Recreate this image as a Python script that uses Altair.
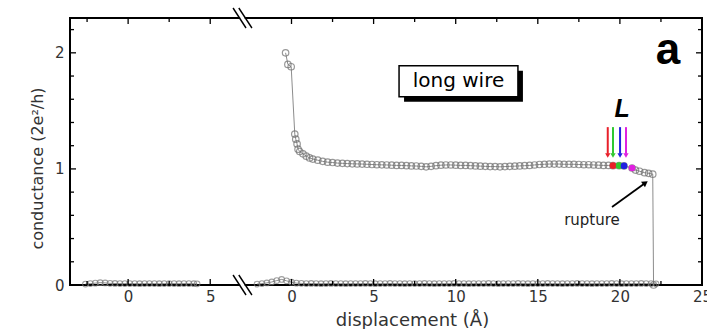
import altair as alt
import pandas as pd

# ---------------- data ----------------
# right-hand panel (after the axis break): displacement (Å), conductance (2e^2/h)
main_x = [-0.36, -0.22, -0.02, 0.20, 0.26, 0.34, 0.40,
          0.5, 0.7, 0.9, 1.1, 1.3, 1.6, 1.9, 2.2, 2.5, 2.8,
          3.1, 3.4, 3.7, 4.0, 4.3, 4.6, 4.9, 5.2, 5.5, 5.8,
          6.1, 6.4, 6.7, 7.0, 7.3, 7.6, 7.9, 8.2, 8.5, 8.8,
          9.1, 9.4, 9.7, 10.0, 10.3, 10.6, 10.9, 11.2, 11.5, 11.8,
          12.1, 12.4, 12.7, 13.0, 13.3, 13.6, 13.9, 14.2, 14.5, 14.8,
          15.1, 15.4, 15.7, 16.0, 16.3, 16.6, 16.9, 17.2, 17.5, 17.8,
          18.1, 18.4, 18.7, 19.0, 19.3,
          19.58, 19.95, 20.25, 20.74,
          20.95, 21.2, 21.5, 21.75, 22.0, 22.05]
main_y = [2.00, 1.90, 1.88, 1.30, 1.256, 1.215, 1.17,
          1.15, 1.13, 1.11, 1.095, 1.085, 1.075, 1.065, 1.058, 1.055, 1.05,
          1.048, 1.046, 1.044, 1.043, 1.042, 1.040, 1.038, 1.036, 1.035, 1.034,
          1.032, 1.030, 1.030, 1.028, 1.026, 1.025, 1.022, 1.018, 1.022, 1.028,
          1.032, 1.034, 1.034, 1.032, 1.030, 1.030, 1.028, 1.026, 1.024, 1.022,
          1.020, 1.020, 1.018, 1.020, 1.022, 1.024, 1.026, 1.028, 1.030, 1.034,
          1.038, 1.040, 1.042, 1.042, 1.042, 1.040, 1.040, 1.040, 1.038, 1.036,
          1.036, 1.034, 1.032, 1.030, 1.030,
          1.028, 1.028, 1.026, 1.008,
          0.99, 0.98, 0.968, 0.962, 0.955, 0.0]

# highlighted points of length L and their arrows
L_x = [19.58, 19.95, 20.25, 20.74]
L_y = [1.028, 1.028, 1.026, 1.008]
L_arrow_x = [19.26, 19.58, 20.01, 20.37]
L_colors = ["#e8202a", "#30c830", "#2020e0", "#e020e0"]

# zero-conductance trace, right panel
zero_r_x = [-2.1, -1.8, -1.5, -1.2, -0.9, -0.6, -0.3, 0.0, 0.3, 0.6,
            0.9, 1.2, 1.5, 1.8, 2.1, 2.4, 2.7, 3.0, 3.3, 3.6,
            3.9, 4.2, 4.5, 4.8, 5.1, 5.4, 5.7, 6.0, 6.3, 6.6,
            6.9, 7.2, 7.5, 7.8, 8.1, 8.4, 8.7, 9.0, 9.3, 9.6,
            9.9, 10.2, 10.5, 10.8, 11.1, 11.4, 11.7, 12.0, 12.3, 12.6,
            12.9, 13.2, 13.5, 13.8, 14.1, 14.4, 14.7, 15.0, 15.3, 15.6,
            15.9, 16.2, 16.5, 16.8, 17.1, 17.4, 17.7, 18.0, 18.3, 18.6,
            18.9, 19.2, 19.5, 19.8, 20.1, 20.4, 20.7, 21.0, 21.3, 21.6,
            21.9, 22.2]
zero_r_y = [0.008, 0.012, 0.018, 0.026, 0.038, 0.048, 0.036, 0.024, 0.016, 0.014,
            0.012, 0.013, 0.012, 0.011, 0.012, 0.013, 0.012, 0.012, 0.011, 0.012,
            0.012, 0.012, 0.013, 0.012, 0.011, 0.012, 0.012, 0.013, 0.012, 0.012,
            0.011, 0.012, 0.012, 0.012, 0.013, 0.012, 0.011, 0.012, 0.012, 0.012,
            0.013, 0.012, 0.012, 0.011, 0.012, 0.012, 0.012, 0.013, 0.012, 0.011,
            0.012, 0.012, 0.012, 0.013, 0.012, 0.011, 0.012, 0.012, 0.012, 0.013,
            0.012, 0.012, 0.011, 0.012, 0.012, 0.013, 0.012, 0.012, 0.011, 0.012,
            0.012, 0.012, 0.013, 0.012, 0.011, 0.012, 0.012, 0.012, 0.013, 0.012,
            0.012, 0.010]

# zero-conductance trace, left panel (before the break)
zero_l_x = [-2.6, -2.3, -2.0, -1.7, -1.4, -1.1, -0.8, -0.5, -0.2, 0.1,
            0.4, 0.7, 1.0, 1.3, 1.6, 1.9, 2.2, 2.5, 2.8, 3.1,
            3.4, 3.7, 4.0, 4.2]
zero_l_y = [0.008, 0.012, 0.016, 0.020, 0.018, 0.014, 0.013, 0.012, 0.012, 0.012,
            0.012, 0.011, 0.012, 0.012, 0.012, 0.011, 0.012, 0.012, 0.012, 0.011,
            0.012, 0.012, 0.011, 0.010]

# axis ticks
x_major_left = [0, 5]
x_minor_left = [-2.5, 2.5]
x_major_right = [0, 5, 10, 15, 20, 25]
x_minor_right = [2.5, 7.5, 12.5, 17.5, 22.5]
y_major = [0, 1, 2]
y_minor = [0.2, 0.4, 0.6, 0.8, 1.2, 1.4, 1.6, 1.8, 2.2]

# broken axis: left panel [-3.54, 7.1], right panel shifted by OFFSET
X_MIN, X_MAX = -3.54, 34.95
OFFSET = 9.95
Y_MAX = 2.3
break_u = [6.39, 7.18, 6.74, 7.54]   # two diagonal strokes (start, end)

FONT = "DejaVu Sans"
BOLD_FONT = "Liberation Sans"
GREY = "#6e6e6e"

# ---------------- tables ----------------
main = pd.DataFrame({"u": [v + OFFSET for v in main_x], "y": main_y,
                     "i": list(range(len(main_x)))})
zr = pd.DataFrame({"u": [v + OFFSET for v in zero_r_x], "y": zero_r_y,
                   "i": list(range(len(zero_r_x)))})
zl = pd.DataFrame({"u": zero_l_x, "y": zero_l_y, "i": list(range(len(zero_l_x)))})
Ld = pd.DataFrame({"u": [v + OFFSET for v in L_x], "y": L_y,
                   "ua": [v + OFFSET for v in L_arrow_x], "c": L_colors})

xmaj = pd.DataFrame({"u": x_major_left + [v + OFFSET for v in x_major_right]})
xmin = pd.DataFrame({"u": x_minor_left + [v + OFFSET for v in x_minor_right]})
ymaj = pd.DataFrame({"y": y_major})
ymin = pd.DataFrame({"y": y_minor})

xscale = alt.Scale(domain=[X_MIN, X_MAX], nice=False, zero=False)
yscale = alt.Scale(domain=[0, Y_MAX], nice=False, zero=False)

label_vals = x_major_left + [v + OFFSET for v in x_major_right]
xaxis = alt.Axis(values=label_vals,
                 labelExpr="datum.value > 8 ? format(round(datum.value - 9.95), 'd') : format(round(datum.value), 'd')",
                 ticks=False, domain=False, grid=False, labelPadding=4,
                 labelFlush=False, labelOverlap=False,
                 labelFontSize=15, labelColor="#333333", labelFont=FONT,
                 title="displacement (Å)", titleFontSize=18, titleFont=FONT,
                 titleFontWeight="normal", titleColor="#333333",
                 titleX=342, titleY=40, titleAlign="center",
                 titleBaseline="alphabetic", titleAnchor="start")
yaxis = alt.Axis(values=y_major, format="d", ticks=False, domain=False, grid=False,
                 labelPadding=6, labelFontSize=15, labelColor="#333333", labelFont=FONT,
                 title="conductance (2e²/h)", titleFontSize=16, titleFont=FONT,
                 titleFontWeight="normal", titleColor="#333333",
                 titleAngle=270, titleX=-33, titleY=150,
                 titleAlign="center", titleBaseline="middle", titleAnchor="start")


def X(f="u"):
    return alt.X(f + ":Q", scale=xscale, axis=xaxis)


def Y(f="y"):
    return alt.Y(f + ":Q", scale=yscale, axis=yaxis)


def XD(v):
    return alt.X(datum=v, scale=xscale, axis=xaxis)


def YD(v):
    return alt.Y(datum=v, scale=yscale, axis=yaxis)


one = pd.DataFrame({"k": [0]})

base_line = alt.Chart(main).mark_line(color=GREY, strokeWidth=0.8).encode(
    x=X(), y=Y(), order="i:Q")
main_pts = alt.Chart(main).mark_point(shape="circle", filled=False, size=42,
                                      color=GREY, strokeWidth=1.2).encode(x=X(), y=Y())

zr_line = alt.Chart(zr).mark_line(color=GREY, strokeWidth=0.8).encode(x=X(), y=Y(), order="i:Q")
zr_pts = alt.Chart(zr).mark_point(shape="circle", filled=False, size=32,
                                  color="#7a7a7a", strokeWidth=1.1).encode(x=X(), y=Y())
zl_line = alt.Chart(zl).mark_line(color=GREY, strokeWidth=0.8).encode(x=X(), y=Y(), order="i:Q")
zl_pts = alt.Chart(zl).mark_point(shape="circle", filled=False, size=32,
                                  color="#7a7a7a", strokeWidth=1.1).encode(x=X(), y=Y())

L_pts = alt.Chart(Ld).mark_point(shape="circle", filled=True, size=44, opacity=1).encode(
    x=X(), y=Y(), color=alt.Color("c:N", scale=None))
L_shaft = alt.Chart(Ld).mark_rule(strokeWidth=2).encode(
    x=X("ua"), y=YD(1.36), y2=alt.Y2(datum=1.13), color=alt.Color("c:N", scale=None))
L_head = alt.Chart(Ld).mark_point(shape="triangle-down", filled=True, size=28, opacity=1).encode(
    x=X("ua"), y=YD(1.115), color=alt.Color("c:N", scale=None))
L_text = alt.Chart(pd.DataFrame({"t": ["L"]})).mark_text(
    font=BOLD_FONT, fontSize=25, fontWeight="bold", fontStyle="italic",
    baseline="alphabetic", align="center", color="black").encode(
    x=XD(30.08), y=YD(1.45), text="t:N")

a_text = alt.Chart(pd.DataFrame({"t": ["a"]})).mark_text(
    font=BOLD_FONT, fontSize=44, fontWeight="bold", baseline="alphabetic",
    align="center", color="black").encode(x=XD(32.88), y=YD(1.9), text="t:N")

box_shadow = alt.Chart(one).mark_rect(
    color="black", xOffset=5, x2Offset=5, yOffset=5, y2Offset=5).encode(
    x=XD(16.5), x2=alt.X2(datum=23.74), y=YD(1.888), y2=alt.Y2(datum=1.621))
box = alt.Chart(one).mark_rect(
    fill="white", stroke="black", strokeWidth=1.5).encode(
    x=XD(16.5), x2=alt.X2(datum=23.74), y=YD(1.888), y2=alt.Y2(datum=1.621))
box_text = alt.Chart(pd.DataFrame({"t": ["long wire"]})).mark_text(
    font=FONT, fontSize=20, baseline="middle", align="center", color="black").encode(
    x=XD(20.12), y=YD(1.755), text="t:N")

rup_text = alt.Chart(pd.DataFrame({"t": ["rupture"]})).mark_text(
    font=FONT, fontSize=15, baseline="middle", align="center", color="#222222").encode(
    x=XD(28.25), y=YD(0.56), text="t:N")
rup_line = alt.Chart(one).mark_rule(color="black", strokeWidth=1.8).encode(
    x=XD(29.47), x2=alt.X2(datum=31.45), y=YD(0.672), y2=alt.Y2(datum=0.875))
rup_head = alt.Chart(one).mark_point(
    shape="triangle-up", filled=True, size=45, angle=54, color="black", opacity=1).encode(
    x=XD(31.5), y=YD(0.88))

# inward ticks on all four sides
tk = dict(color="black", strokeWidth=1.3)
t_xb_maj = alt.Chart(xmaj).mark_rule(**tk).encode(x=X(), y=alt.value(267), y2=alt.value(261))
t_xt_maj = alt.Chart(xmaj).mark_rule(**tk).encode(x=X(), y=alt.value(0), y2=alt.value(6))
t_xb_min = alt.Chart(xmin).mark_rule(**tk).encode(x=X(), y=alt.value(267), y2=alt.value(263))
t_xt_min = alt.Chart(xmin).mark_rule(**tk).encode(x=X(), y=alt.value(0), y2=alt.value(4))
t_yl_maj = alt.Chart(ymaj).mark_rule(**tk).encode(y=Y(), x=alt.value(0), x2=alt.value(6))
t_yr_maj = alt.Chart(ymaj).mark_rule(**tk).encode(y=Y(), x=alt.value(632), x2=alt.value(626))
t_yl_min = alt.Chart(ymin).mark_rule(**tk).encode(y=Y(), x=alt.value(0), x2=alt.value(4))
t_yr_min = alt.Chart(ymin).mark_rule(**tk).encode(y=Y(), x=alt.value(632), x2=alt.value(628))


# axis break marks (top and bottom)
def brk(ypix):
    gap = alt.Chart(one).mark_rule(color="white", strokeWidth=5).encode(
        x=XD(6.82), x2=alt.X2(datum=7.1), y=alt.value(ypix))
    s1 = alt.Chart(one).mark_rule(color="black", strokeWidth=1.4).encode(
        x=XD(break_u[0]), x2=alt.X2(datum=break_u[1]),
        y=alt.value(ypix - 10), y2=alt.value(ypix + 10))
    s2 = alt.Chart(one).mark_rule(color="black", strokeWidth=1.4).encode(
        x=XD(break_u[2]), x2=alt.X2(datum=break_u[3]),
        y=alt.value(ypix - 10), y2=alt.value(ypix + 10))
    return [gap, s1, s2]


layers = [base_line, zr_line, zl_line, zr_pts, zl_pts, main_pts, L_pts,
          L_shaft, L_head, L_text, a_text, box_shadow, box, box_text,
          rup_text, rup_line, rup_head,
          t_xb_maj, t_xt_maj, t_xb_min, t_xt_min, t_yl_maj, t_yr_maj, t_yl_min, t_yr_min]
layers += brk(0) + brk(267)

chart = alt.layer(*layers).properties(
    width=632, height=267,
    padding={"left": 70, "top": 18, "right": 5, "bottom": 44},
    autosize=alt.AutoSizeParams(type="none"),
    background="white",
).configure_view(stroke="black", strokeWidth=2)

chart.save("out.html", embed_options={"renderer": "svg", "actions": False})
